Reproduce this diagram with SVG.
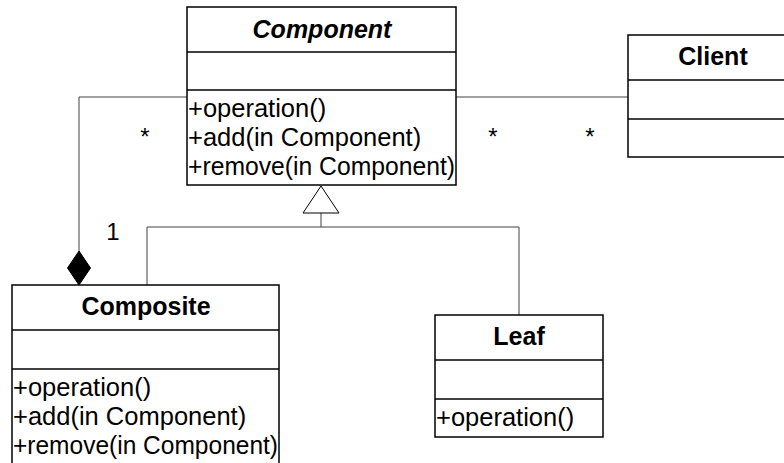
<svg xmlns="http://www.w3.org/2000/svg" width="784" height="463" viewBox="0 0 784 463">
<style>
.box{fill:#fff;stroke:#000;stroke-width:1.5}
.sep{stroke:#000;stroke-width:1.5}
.t{font-family:"Liberation Sans",Arial,sans-serif;font-size:25.5px;fill:#000}
.h{font-weight:bold;text-anchor:middle;font-size:25px}
.c{fill:none;stroke:#404040;stroke-width:1}
.lbl{font-family:"Liberation Sans",Arial,sans-serif;font-size:24px;fill:#000;text-anchor:middle}
</style>
<rect width="784" height="463" fill="#fff"/>
<g id="connectors">
<polyline class="c" points="187,97 79,97 79,251"/>
<polygon points="79,251 90.5,268 79,285 67.5,268" fill="#000" stroke="#000"/>
<line class="c" x1="456" y1="97" x2="628" y2="97"/>
<polyline class="c" points="147,285 147,227 519,227 519,315"/>
<line class="c" x1="321" y1="213" x2="321" y2="227"/>
<polygon points="321,186 339,213 303,213" fill="#fff" stroke="#000" stroke-width="1"/>
<text class="lbl" x="145" y="145">*</text>
<text class="lbl" x="493" y="145">*</text>
<text class="lbl" x="590" y="145">*</text>
<text class="lbl" x="113" y="240">1</text>
</g>
<g id="component">
<rect class="box" x="187" y="7" width="269" height="178"/>
<line class="sep" x1="187" y1="52" x2="456" y2="52"/>
<line class="sep" x1="187" y1="90" x2="456" y2="90"/>
<text class="t h" x="322" y="38" font-style="italic">Component</text>
<text class="t" x="188" y="117">+operation()</text>
<text class="t" x="188" y="146">+add(in Component)</text>
<text class="t" x="188" y="175" textLength="267" lengthAdjust="spacingAndGlyphs">+remove(in Component)</text>
</g>
<g id="client">
<rect class="box" x="628" y="35" width="170" height="122"/>
<line class="sep" x1="628" y1="80" x2="798" y2="80"/>
<line class="sep" x1="628" y1="119" x2="798" y2="119"/>
<text class="t h" x="713" y="65">Client</text>
</g>
<g id="composite">
<rect class="box" x="12" y="285" width="267" height="190"/>
<line class="sep" x1="12" y1="330" x2="279" y2="330"/>
<line class="sep" x1="12" y1="369" x2="279" y2="369"/>
<text class="t h" x="146" y="315">Composite</text>
<text class="t" x="13" y="396">+operation()</text>
<text class="t" x="13" y="425">+add(in Component)</text>
<text class="t" x="13" y="454" textLength="265" lengthAdjust="spacingAndGlyphs">+remove(in Component)</text>
</g>
<g id="leaf">
<rect class="box" x="435" y="315" width="168" height="122"/>
<line class="sep" x1="435" y1="360" x2="603" y2="360"/>
<line class="sep" x1="435" y1="399" x2="603" y2="399"/>
<text class="t h" x="519" y="345">Leaf</text>
<text class="t" x="436" y="426">+operation()</text>
</g>
</svg>
